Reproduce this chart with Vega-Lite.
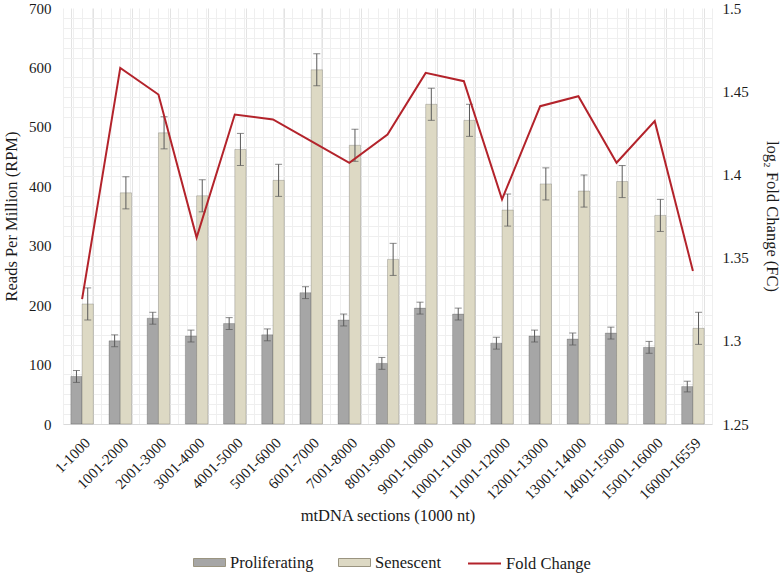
{
  "$schema": "https://vega.github.io/schema/vega-lite/v6.json",
  "width": 649,
  "height": 416,
  "autosize": {"type": "none"},
  "padding": {"left": 63, "top": 8, "right": 70, "bottom": 149},
  "config": {
    "font": "Liberation Serif",
    "view": {"stroke": null},
    "axis": {
      "labelFont": "Liberation Serif",
      "titleFont": "Liberation Serif",
      "labelColor": "#1a1a1a",
      "titleColor": "#1a1a1a",
      "titleFontWeight": "normal",
      "labelFontSize": 15,
      "titleFontSize": 16.5
    },
    "legend": {
      "labelFont": "Liberation Serif",
      "labelFontSize": 16.5,
      "labelColor": "#1a1a1a",
      "orient": "none",
      "direction": "horizontal",
      "columnPadding": 22,
      "labelOffset": 4
    }
  },
  "datasets": {
    "bars": [
      {"section": "1-1000", "series": "Proliferating", "value": 80, "lo": 70, "hi": 90},
      {"section": "1-1000", "series": "Senescent", "value": 202, "lo": 175, "hi": 229},
      {"section": "1001-2000", "series": "Proliferating", "value": 140, "lo": 130, "hi": 150},
      {"section": "1001-2000", "series": "Senescent", "value": 389, "lo": 362, "hi": 416},
      {"section": "2001-3000", "series": "Proliferating", "value": 178, "lo": 168, "hi": 188},
      {"section": "2001-3000", "series": "Senescent", "value": 490, "lo": 463, "hi": 517},
      {"section": "3001-4000", "series": "Proliferating", "value": 148, "lo": 138, "hi": 158},
      {"section": "3001-4000", "series": "Senescent", "value": 384, "lo": 357, "hi": 411},
      {"section": "4001-5000", "series": "Proliferating", "value": 169, "lo": 159, "hi": 179},
      {"section": "4001-5000", "series": "Senescent", "value": 462, "lo": 435, "hi": 489},
      {"section": "5001-6000", "series": "Proliferating", "value": 150, "lo": 140, "hi": 160},
      {"section": "5001-6000", "series": "Senescent", "value": 410, "lo": 383, "hi": 437},
      {"section": "6001-7000", "series": "Proliferating", "value": 221, "lo": 211, "hi": 231},
      {"section": "6001-7000", "series": "Senescent", "value": 596, "lo": 569, "hi": 623},
      {"section": "7001-8000", "series": "Proliferating", "value": 175, "lo": 165, "hi": 185},
      {"section": "7001-8000", "series": "Senescent", "value": 469, "lo": 442, "hi": 496},
      {"section": "8001-9000", "series": "Proliferating", "value": 102, "lo": 92, "hi": 112},
      {"section": "8001-9000", "series": "Senescent", "value": 277, "lo": 250, "hi": 304},
      {"section": "9001-10000", "series": "Proliferating", "value": 195, "lo": 185, "hi": 205},
      {"section": "9001-10000", "series": "Senescent", "value": 538, "lo": 511, "hi": 565},
      {"section": "10001-11000", "series": "Proliferating", "value": 185, "lo": 175, "hi": 195},
      {"section": "10001-11000", "series": "Senescent", "value": 511, "lo": 484, "hi": 538},
      {"section": "11001-12000", "series": "Proliferating", "value": 136, "lo": 126, "hi": 146},
      {"section": "11001-12000", "series": "Senescent", "value": 360, "lo": 333, "hi": 387},
      {"section": "12001-13000", "series": "Proliferating", "value": 148, "lo": 138, "hi": 158},
      {"section": "12001-13000", "series": "Senescent", "value": 404, "lo": 377, "hi": 431},
      {"section": "13001-14000", "series": "Proliferating", "value": 143, "lo": 133, "hi": 153},
      {"section": "13001-14000", "series": "Senescent", "value": 392, "lo": 365, "hi": 419},
      {"section": "14001-15000", "series": "Proliferating", "value": 153, "lo": 143, "hi": 163},
      {"section": "14001-15000", "series": "Senescent", "value": 408, "lo": 381, "hi": 435},
      {"section": "15001-16000", "series": "Proliferating", "value": 129, "lo": 119, "hi": 139},
      {"section": "15001-16000", "series": "Senescent", "value": 351, "lo": 324, "hi": 378},
      {"section": "16000-16559", "series": "Proliferating", "value": 63, "lo": 54, "hi": 72},
      {"section": "16000-16559", "series": "Senescent", "value": 161, "lo": 134, "hi": 188}
    ],
    "fc": [
      {"section": "1-1000", "fc": 1.325},
      {"section": "1001-2000", "fc": 1.464},
      {"section": "2001-3000", "fc": 1.448},
      {"section": "3001-4000", "fc": 1.362},
      {"section": "4001-5000", "fc": 1.436},
      {"section": "5001-6000", "fc": 1.433},
      {"section": "6001-7000", "fc": 1.42},
      {"section": "7001-8000", "fc": 1.407},
      {"section": "8001-9000", "fc": 1.424},
      {"section": "9001-10000", "fc": 1.461},
      {"section": "10001-11000", "fc": 1.456},
      {"section": "11001-12000", "fc": 1.385},
      {"section": "12001-13000", "fc": 1.441},
      {"section": "13001-14000", "fc": 1.447},
      {"section": "14001-15000", "fc": 1.407},
      {"section": "15001-16000", "fc": 1.432},
      {"section": "16000-16559", "fc": 1.342}
    ]
  },
  "layer": [
    {
      "data": {"name": "fc"},
      "mark": {"type": "rule", "opacity": 0},
      "encoding": {
        "x": {
          "datum": 0,
          "type": "quantitative",
          "scale": {"domain": [0, 68], "nice": false},
          "axis": {
            "orient": "top",
            "tickCount": 68,
            "grid": true,
            "gridColor": "#efefef",
            "labels": false,
            "ticks": false,
            "domain": false,
            "title": null
          }
        },
        "y": {
          "datum": 0,
          "type": "quantitative",
          "scale": {"domain": [0, 700], "nice": false},
          "axis": {
            "orient": "right",
            "values": [16.667, 33.333, 50, 66.667, 83.333, 116.667, 133.333, 150, 166.667, 183.333, 216.667, 233.333, 250, 266.667, 283.333, 316.667, 333.333, 350, 366.667, 383.333, 416.667, 433.333, 450, 466.667, 483.333, 516.667, 533.333, 550, 566.667, 583.333, 616.667, 633.333, 650, 666.667, 683.333],
            "grid": true,
            "gridColor": "#efefef",
            "labels": false,
            "ticks": false,
            "domain": false,
            "title": null
          }
        }
      }
    },
    {
      "layer": [
        {
          "data": {"name": "bars"},
          "layer": [
            {
              "mark": {"type": "bar", "stroke": "#000", "strokeOpacity": 0.18, "strokeWidth": 1},
              "encoding": {
                "x": {
                  "field": "section",
                  "type": "nominal",
                  "title": "mtDNA sections (1000 nt)",
                  "scale": {
                    "domain": ["1-1000", "1001-2000", "2001-3000", "3001-4000", "4001-5000", "5001-6000", "6001-7000", "7001-8000", "8001-9000", "9001-10000", "10001-11000", "11001-12000", "12001-13000", "13001-14000", "14001-15000", "15001-16000", "16000-16559"],
                    "paddingInner": 0.41,
                    "paddingOuter": 0.205
                  },
                  "axis": {
                    "labelAngle": -45,
                    "labelFontSize": 15,
                    "ticks": false,
                    "grid": true,
                    "tickBand": "extent",
                    "gridColor": "#e3e3e3",
                    "domainColor": "#d9d9d9",
                    "labelPadding": 11,
                    "titlePadding": 5
                  }
                },
                "xOffset": {"field": "series", "type": "nominal", "scale": {"domain": ["Proliferating", "Senescent"]}},
                "y": {
                  "field": "value",
                  "type": "quantitative",
                  "title": "Reads Per Million (RPM)",
                  "scale": {"domain": [0, 700], "nice": false},
                  "axis": {
                    "orient": "left",
                    "values": [0, 100, 200, 300, 400, 500, 600, 700],
                    "gridColor": "#d4d4d4",
                    "domain": false,
                    "ticks": false,
                    "labelPadding": 12,
                    "titlePadding": 9
                  }
                },
                "fill": {
                  "field": "series",
                  "type": "nominal",
                  "scale": {"domain": ["Proliferating", "Senescent"], "range": ["#a6a6a6", "#ddd9c4"]},
                  "legend": {
                    "title": null,
                    "legendX": 130,
                    "legendY": 538,
                    "symbolType": "M-1,-0.25H1V0.25H-1Z",
                    "symbolSize": 1024,
                    "symbolStrokeColor": "#9a9480",
                    "symbolStrokeWidth": 1
                  }
                }
              }
            },
            {
              "mark": {"type": "rule", "color": "#595959", "strokeWidth": 1},
              "encoding": {
                "x": {"field": "section", "type": "nominal", "title": "mtDNA sections (1000 nt)"},
                "xOffset": {"field": "series", "type": "nominal"},
                "y": {"field": "lo", "type": "quantitative", "title": "Reads Per Million (RPM)"},
                "y2": {"field": "hi"}
              }
            },
            {
              "mark": {"type": "tick", "color": "#595959", "thickness": 1, "size": 7},
              "encoding": {
                "x": {"field": "section", "type": "nominal", "title": "mtDNA sections (1000 nt)"},
                "xOffset": {"field": "series", "type": "nominal"},
                "y": {"field": "hi", "type": "quantitative", "title": "Reads Per Million (RPM)"}
              }
            },
            {
              "mark": {"type": "tick", "color": "#595959", "thickness": 1, "size": 7},
              "encoding": {
                "x": {"field": "section", "type": "nominal", "title": "mtDNA sections (1000 nt)"},
                "xOffset": {"field": "series", "type": "nominal"},
                "y": {"field": "lo", "type": "quantitative", "title": "Reads Per Million (RPM)"}
              }
            }
          ]
        },
        {
          "data": {"name": "fc"},
          "mark": {"type": "line", "strokeWidth": 2},
          "encoding": {
            "x": {"field": "section", "type": "nominal", "title": "mtDNA sections (1000 nt)"},
            "y": {
              "field": "fc",
              "type": "quantitative",
              "title": "log₂ Fold Change (FC)",
              "scale": {"domain": [1.25, 1.5], "nice": false, "zero": false},
              "axis": {
                "orient": "right",
                "values": [1.25, 1.3, 1.35, 1.4, 1.45, 1.5],
                "format": ".2~f",
                "labelOverlap": false,
                "grid": false,
                "domain": false,
                "ticks": false,
                "labelPadding": 10,
                "titlePadding": 15
              }
            },
            "stroke": {
              "datum": "Fold Change",
              "type": "nominal",
              "scale": {"domain": ["Fold Change"], "range": ["#b3232b"]},
              "legend": {
                "title": null,
                "legendX": 404,
                "legendY": 538,
                "symbolType": "stroke",
                "symbolSize": 1089,
                "symbolStrokeWidth": 2
              }
            }
          }
        }
      ],
      "resolve": {"scale": {"y": "independent"}}
    }
  ],
  "resolve": {"scale": {"x": "independent", "y": "independent"}, "axis": {"x": "independent", "y": "independent"}}
}
